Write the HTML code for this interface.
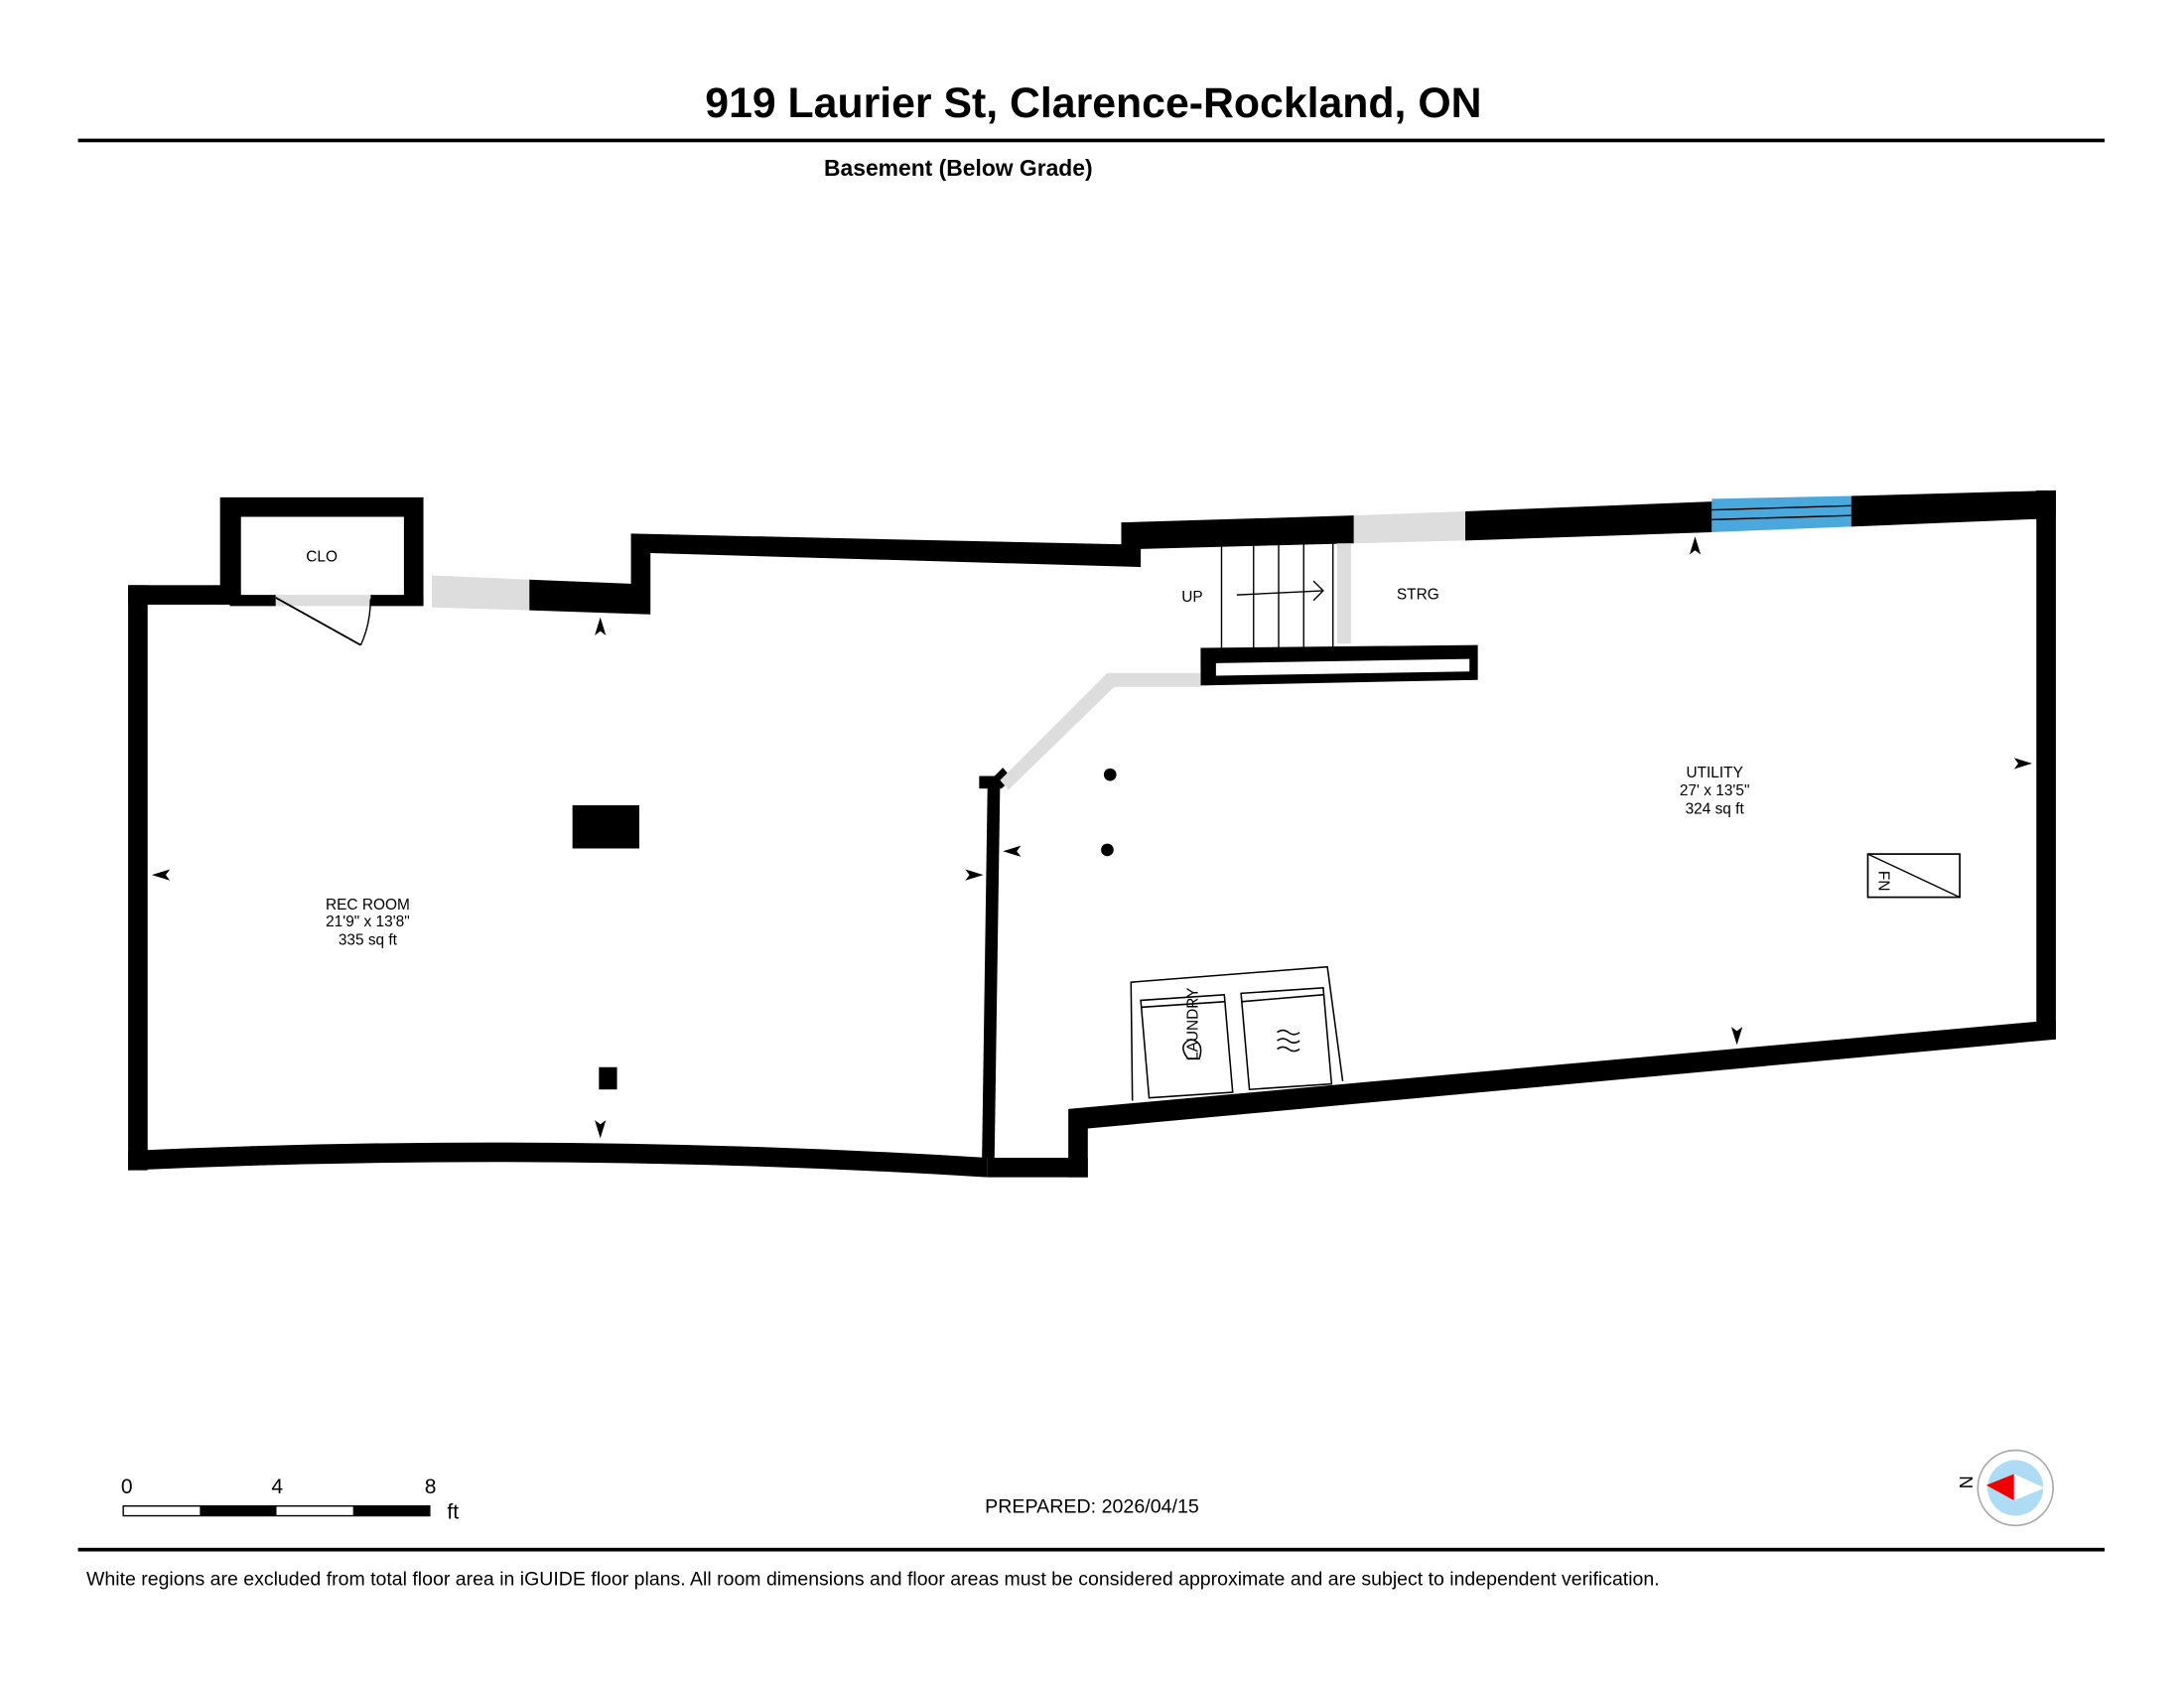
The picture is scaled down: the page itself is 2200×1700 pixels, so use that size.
<!DOCTYPE html>
<html><head><meta charset="utf-8"><style>
html,body{margin:0;padding:0;background:#fff;}
svg{display:block;}
text{font-family:"Liberation Sans",Arial,sans-serif;}
</style></head><body>
<svg width="2200" height="1700" viewBox="0 0 1568 1211.6" xmlns="http://www.w3.org/2000/svg">
<rect width="1568" height="1212" fill="#fff"/>
<text x="785" y="84" font-size="30.5" font-weight="bold" text-anchor="middle">919 Laurier St, Clarence-Rockland, ON</text>
<rect x="56" y="99.5" width="1455" height="2.6" fill="#000"/>
<text x="688" y="126" font-size="16.3" font-weight="bold" text-anchor="middle">Basement (Below Grade)</text>

<g fill="#000">
<rect x="92" y="420" width="14" height="420"/>
<rect x="92" y="420" width="73" height="14"/>
<path d="M158 357 H304 V434 H290 V371 H173 V434 H158 Z"/>
<rect x="165" y="427" width="33" height="8"/>
<rect x="266" y="427" width="38" height="8"/>
<polygon points="380,416 453,419 453,383 818,391 818,405 805,405 805,375 972,370 972,390 819,394 819,407 467,397 467,441 380,438"/>
<polygon points="1052,367 1229,360 1229,382 1052,388"/>
<polygon points="1329,356 1476,352 1476,372 1329,378"/>
<rect x="1462" y="352" width="14" height="394"/>
<polygon points="767,796 1476,732 1476,746 781,810 781,845 767,845"/>
<rect x="709" y="831" width="72" height="14"/>
<path d="M92 826 Q400 812 709 831 L709 845 Q400 826 92 840 Z"/>
<polygon points="709,563 718,563 714,831 705,831"/>
<rect x="703" y="557" width="16" height="9"/>
<polygon points="713,558 720,551 727,559 719,566"/>
<path d="M862 465 L1061 463 L1061 488 L862 492 Z M873 476 L1055 473 L1055 482 L873 485 Z" fill-rule="evenodd"/>
<rect x="411" y="578" width="48" height="31"/>
<rect x="430" y="766" width="13" height="16"/>
<circle cx="797" cy="556" r="4.5"/>
<circle cx="795" cy="610" r="4.5"/>
</g>
<g fill="#ddd">
<rect x="198" y="427" width="68" height="8"/>
<polygon points="310,413 380,416 380,438 310,436"/>
<polygon points="972,370 1052,367 1052,388 972,390"/>
<rect x="960" y="390" width="10" height="72"/>
<polygon points="718,560 795,483 862,483 862,493 800,493 724,567"/>
</g>
<polygon points="1229,358 1329,356 1329,378 1229,382" fill="#4aa8dd"/>
<line x1="1229" y1="366" x2="1329" y2="363" stroke="#000" stroke-width="1"/>
<line x1="1229" y1="373" x2="1329" y2="370" stroke="#000" stroke-width="1"/>
<line x1="198" y1="429" x2="259" y2="463" stroke="#000" stroke-width="1.3"/>
<path d="M259 463 Q266 448 266 430" fill="none" stroke="#000" stroke-width="1"/>
<g stroke="#000" stroke-width="1">
<line x1="877" y1="388" x2="877" y2="465"/>
<line x1="900" y1="388" x2="900" y2="465"/>
<line x1="918" y1="387" x2="918" y2="465"/>
<line x1="936" y1="387" x2="936" y2="465"/>
<line x1="957" y1="387" x2="957" y2="465"/>
<line x1="888" y1="427" x2="950" y2="424"/>
<polyline points="943,417 950,424 943,431" fill="none"/>
</g>
<rect x="1341" y="613" width="66" height="31" fill="none" stroke="#000" stroke-width="1.2"/>
<line x1="1341" y1="613" x2="1407" y2="644" stroke="#000" stroke-width="1"/>
<text x="1344" y="628" font-size="11" transform="rotate(90 1348 629)">FN</text>
<g fill="none" stroke="#000" stroke-width="1.1">
<polyline points="813,790 812,705 953,694 964,776"/>
<polygon points="819,718 879,714 885,784 825,788"/>
<line x1="819" y1="723" x2="879" y2="719"/>
<polygon points="891,713 950,709 956,778 897,782"/>
<line x1="891" y1="719" x2="950" y2="714"/>
<path d="M917 741 q4 -3 8 0 t8 0 M917 747 q4 -3 8 0 t8 0 M917 753 q4 -3 8 0 t8 0"/>
<path d="M853 760 q-8 -10 2 -14 q10 2 6 14 z"/>
</g>
<text x="860" y="735" font-size="11" text-anchor="middle" transform="rotate(-90 860 735)">LAUNDRY</text>
<g fill="#000">
<polygon points="431,443 427,456 431,453 435,456"/>
<polygon points="109,628 122,624 119,628 122,632"/>
<polygon points="706,628 693,624 696,628 693,632"/>
<polygon points="720,611 733,607 730,611 733,615"/>
<polygon points="1217,385 1213,398 1217,395 1221,398"/>
<polygon points="1459,548 1446,544 1449,548 1446,552"/>
<polygon points="1247,750 1243,737 1247,740 1251,737"/>
<polygon points="431,817 427,804 431,807 435,804"/>
</g>
<g font-size="11" text-anchor="middle">
<text x="231" y="403">CLO</text>
<text x="856" y="432">UP</text>
<text x="1018" y="430">STRG</text>
<text x="264" y="653">REC ROOM</text>
<text x="264" y="665">21'9" x 13'8"</text>
<text x="264" y="678">335 sq ft</text>
<text x="1231" y="558">UTILITY</text>
<text x="1231" y="571">27' x 13'5"</text>
<text x="1231" y="584">324 sq ft</text>
</g>
<g font-size="15">
<text x="91" y="1072" text-anchor="middle">0</text>
<text x="199" y="1072" text-anchor="middle">4</text>
<text x="309" y="1072" text-anchor="middle">8</text>
<text x="321" y="1090">ft</text>
</g>
<rect x="88.5" y="1081" width="220" height="7" fill="#fff" stroke="#000" stroke-width="1"/>
<rect x="143.5" y="1081" width="55" height="7" fill="#000"/>
<rect x="253.5" y="1081" width="55" height="7" fill="#000"/>
<text x="784" y="1086" font-size="14" text-anchor="middle">PREPARED: 2026/04/15</text>
<circle cx="1447" cy="1068" r="27" fill="#fff" stroke="#aaa" stroke-width="1.2"/>
<circle cx="1447" cy="1068" r="20" fill="#aedcf5"/>
<polygon points="1426,1066 1446,1058 1446,1077" fill="#e00"/>
<polygon points="1446,1058 1468,1068 1446,1077" fill="#fff"/>
<text x="1411" y="1068" font-size="13" text-anchor="middle" transform="rotate(90 1411 1064)">N</text>
<rect x="56" y="1111" width="1455" height="2.6" fill="#000"/>
<text x="62" y="1138" font-size="13.9">White regions are excluded from total floor area in iGUIDE floor plans. All room dimensions and floor areas must be considered approximate and are subject to independent verification.</text>
</svg>
</body></html>
